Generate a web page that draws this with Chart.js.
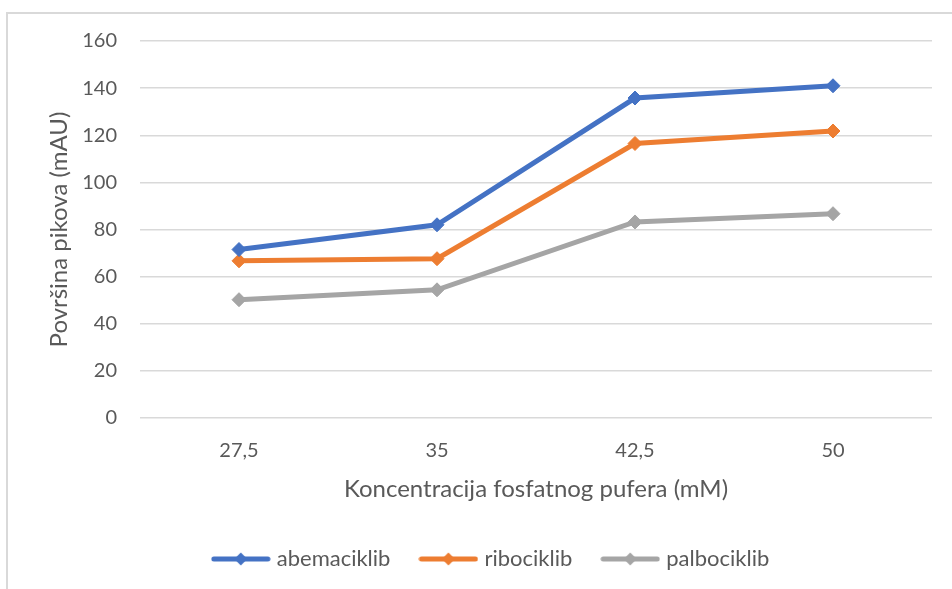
<!DOCTYPE html>
<html>
<head>
<meta charset="utf-8">
<script src="https://cdn.jsdelivr.net/npm/chart.js@4/dist/chart.umd.min.js"></script>
<style>
  html, body { margin: 0; padding: 0; background: #fff; }
  #wrap { position: relative; width: 952px; height: 589px; }
  #frame { position: absolute; left: 6px; top: 12px; right: 0; bottom: 0;
           border-top: 2px solid #d9d9d9; border-left: 2px solid #d9d9d9; }
  canvas { position: absolute; left: 0; top: 0; }
</style>
</head>
<body>
<div id="wrap">
  <div id="frame"></div>
  <canvas id="chart" width="952" height="589"></canvas>
</div>
<script>
// Koncentracija fosfatnog pufera (mM)
const categories = ["27,5", "35", "42,5", "50"];

// Površina pikova (mAU)
const abemaciklib = [71.5, 82, 135.8, 141];
const ribociklib = [66.7, 67.6, 116.5, 121.8];
const palbociklib = [50.2, 54.4, 83.2, 86.7];

const seriesNames = ["abemaciklib", "ribociklib", "palbociklib"];
const seriesColors = ["#4472C4", "#ED7D31", "#A5A5A5"];

const textColor = "#595959";
const fontFamily = "Lato, 'Open Sans', sans-serif";

// legend symbol: short line with a diamond in the middle
function legendSymbol(color) {
  const c = document.createElement("canvas");
  c.width = 60;
  c.height = 16;
  const ctx = c.getContext("2d");
  ctx.strokeStyle = color;
  ctx.lineWidth = 5;
  ctx.lineCap = "round";
  ctx.beginPath();
  ctx.moveTo(3, 8);
  ctx.lineTo(57, 8);
  ctx.stroke();
  ctx.fillStyle = color;
  ctx.beginPath();
  ctx.moveTo(30, 1.5);
  ctx.lineTo(36.5, 8);
  ctx.lineTo(30, 14.5);
  ctx.lineTo(23.5, 8);
  ctx.closePath();
  ctx.fill();
  return c;
}

const allSeries = [abemaciklib, ribociklib, palbociklib];

const datasets = allSeries.map((values, i) => ({
  label: seriesNames[i],
  data: values,
  borderColor: seriesColors[i],
  backgroundColor: seriesColors[i],
  borderWidth: 5,
  pointStyle: "rectRot",
  pointRadius: 7,
  pointHoverRadius: 7,
  pointBorderWidth: 1,
  pointBackgroundColor: seriesColors[i],
  pointBorderColor: seriesColors[i],
  tension: 0,
}));

const symbols = seriesColors.map(legendSymbol);

new Chart(document.getElementById("chart").getContext("2d"), {
  type: "line",
  data: { labels: categories, datasets: datasets },
  options: {
    responsive: false,
    animation: false,
    layout: { padding: { left: 53, right: 20, top: 41, bottom: 9 } },
    plugins: {
      tooltip: { enabled: false },
      legend: {
        position: "bottom",
        labels: {
          color: textColor,
          font: { family: fontFamily, size: 22 },
          padding: 33,
          usePointStyle: true,
          pointStyleWidth: 50,
          generateLabels: (chart) =>
            chart.data.datasets.map((ds, i) => ({
              text: ds.label,
              fontColor: textColor,
              pointStyle: symbols[i],
              datasetIndex: i,
              lineWidth: 0,
            })),
        },
      },
    },
    scales: {
      x: {
        offset: true,
        grid: { display: false },
        border: { display: false },
        ticks: { color: textColor, font: { family: fontFamily, size: 20 }, padding: 13 },
        title: {
          display: true,
          text: "Koncentracija fosfatnog pufera (mM)",
          color: textColor,
          font: { family: fontFamily, size: 24 },
          padding: { top: 0, bottom: 11 },
        },
        afterFit: (scale) => { scale.height = 97; },
      },
      y: {
        min: 0,
        max: 160,
        grid: { color: "#d9d9d9", lineWidth: 1.5, drawTicks: false },
        border: { display: false },
        ticks: { stepSize: 20, color: textColor, font: { family: fontFamily, size: 20 }, padding: 23 },
        title: {
          display: true,
          text: "Površina pikova (mAU)",
          color: textColor,
          font: { family: fontFamily, size: 24 },
          padding: { top: -8, bottom: 0 },
        },
        afterFit: (scale) => { scale.width = 87; },
      },
    },
  },
});
</script>
</body>
</html>
